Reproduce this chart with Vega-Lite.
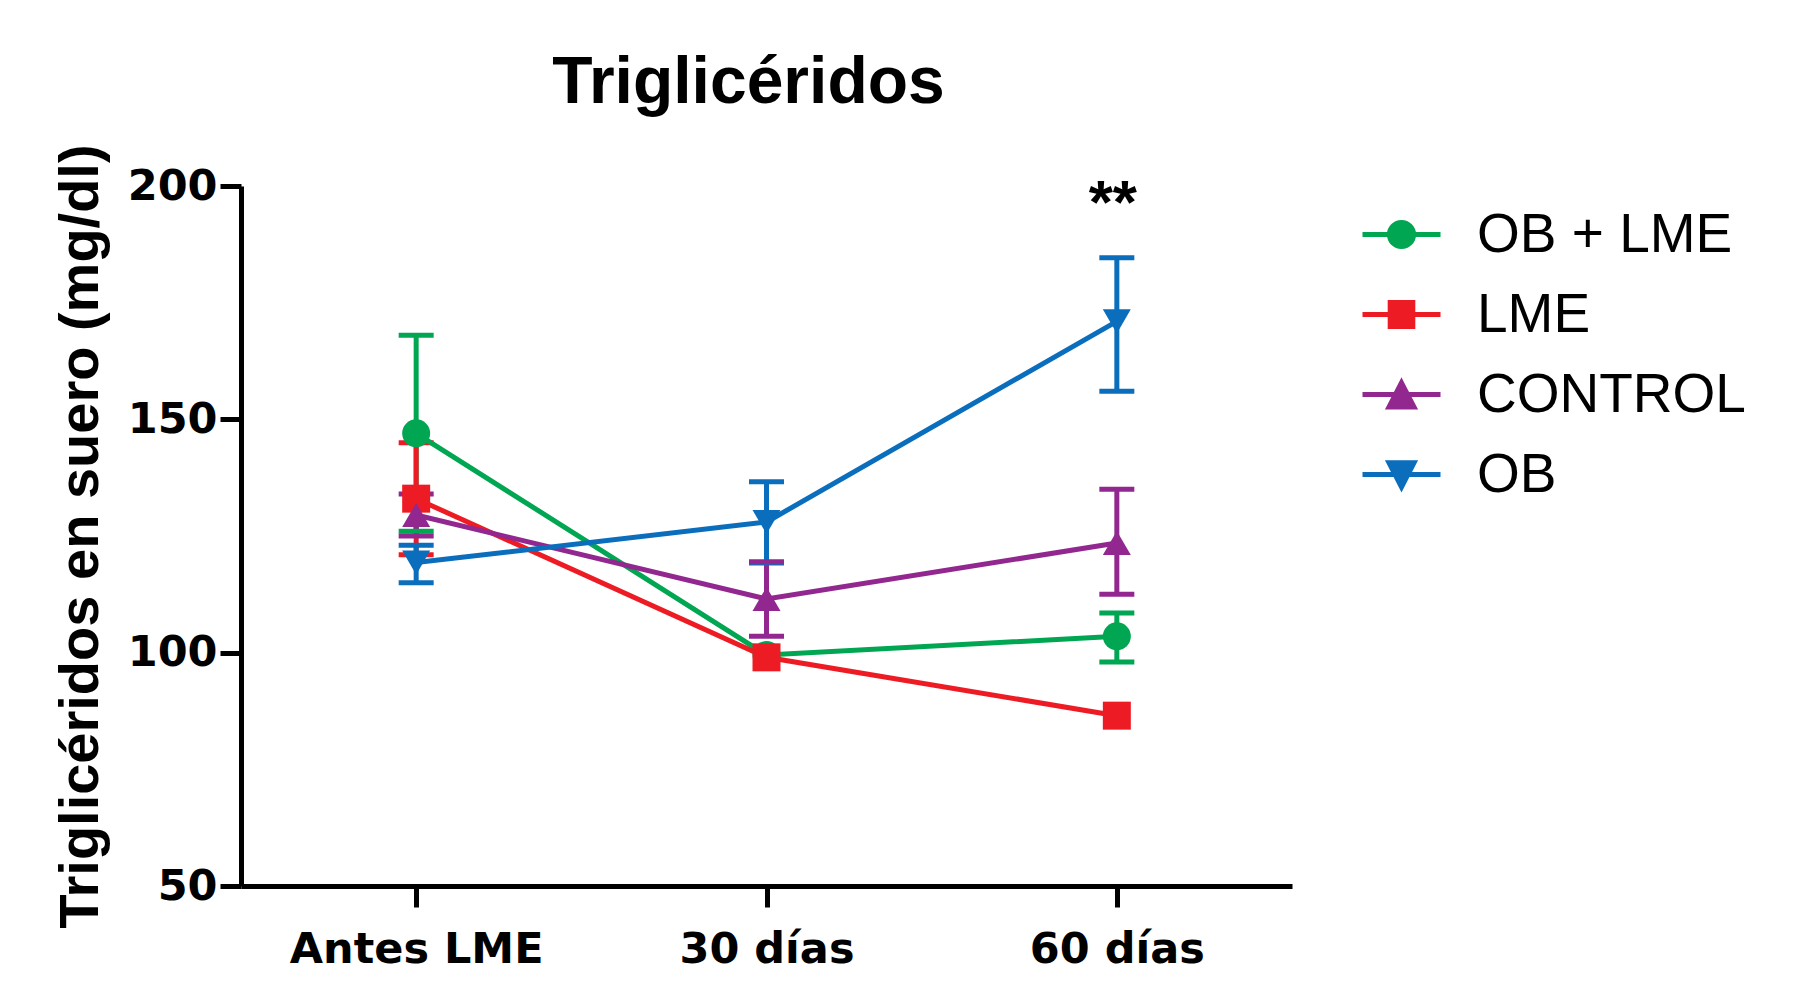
{
  "$schema": "https://vega.github.io/schema/vega-lite/v6.json",
  "width": 1051,
  "height": 700,
  "autosize": {"type": "none"},
  "padding": {"left": 241, "top": 186, "right": 505, "bottom": 96},
  "background": "white",
  "config": {"view": {"stroke": null}},
  "title": {
    "text": "Triglicéridos",
    "font": "Liberation Sans",
    "fontSize": 66,
    "fontWeight": "bold",
    "color": "black",
    "anchor": "middle",
    "frame": "group",
    "dx": -18,
    "baseline": "alphabetic",
    "offset": -25
  },
  "data": {
    "values": [
      {"group": "OB + LME", "time": "Antes LME", "mean": 147, "lo": 126, "hi": 168},
      {"group": "OB + LME", "time": "30 días", "mean": 99.5, "lo": null, "hi": null},
      {"group": "OB + LME", "time": "60 días", "mean": 103.5, "lo": 98, "hi": 108.5},
      {"group": "LME", "time": "Antes LME", "mean": 133, "lo": 121, "hi": 145},
      {"group": "LME", "time": "30 días", "mean": 99, "lo": null, "hi": null},
      {"group": "LME", "time": "60 días", "mean": 86.5, "lo": null, "hi": null},
      {"group": "CONTROL", "time": "Antes LME", "mean": 129.5, "lo": 125, "hi": 134},
      {"group": "CONTROL", "time": "30 días", "mean": 111.5, "lo": 103.5, "hi": 119.5},
      {"group": "CONTROL", "time": "60 días", "mean": 123.5, "lo": 112.5, "hi": 135},
      {"group": "OB", "time": "Antes LME", "mean": 119.3, "lo": 115, "hi": 123},
      {"group": "OB", "time": "30 días", "mean": 128, "lo": 119.2, "hi": 136.6},
      {"group": "OB", "time": "60 días", "mean": 171, "lo": 156, "hi": 184.6}
    ]
  },
  "encoding": {
    "x": {
      "field": "time",
      "type": "nominal",
      "scale": {"type": "point", "domain": ["Antes LME", "30 días", "60 días"], "padding": 0.5},
      "axis": {
        "title": null,
        "labelAngle": 0,
        "labelFont": "DejaVu Sans",
        "labelFontWeight": "bold",
        "labelFontSize": 43,
        "labelColor": "black",
        "labelPadding": 21,
        "labelLimit": 0,
        "domainColor": "black",
        "domainWidth": 5,
        "tickColor": "black",
        "tickWidth": 5,
        "tickSize": 21,
        "grid": false
      }
    },
    "color": {
      "field": "group",
      "type": "nominal",
      "scale": {
        "domain": ["OB + LME", "LME", "CONTROL", "OB"],
        "range": ["#00A651", "#ED1C24", "#92278F", "#0A6EBD"]
      },
      "legend": {
        "title": null,
        "orient": "none",
        "legendX": 1119,
        "legendY": 7,
        "padding": 0,
        "symbolSize": 6084,
        "symbolStrokeWidth": 5,
        "labelFont": "Liberation Sans",
        "labelFontSize": 55,
        "labelColor": "black",
        "labelOffset": 34,
        "labelLimit": 0,
        "rowPadding": 10,
        "encode": {
          "symbols": {
            "update": {
              "shape": {"signal": "datum.value === 'OB + LME' ? 'M-1,0H1M0.31,0A0.31,0.31 0 1,1 -0.31,0A0.31,0.31 0 1,1 0.31,0Z' : datum.value === 'LME' ? 'M-1,0H1M-0.29,-0.31H0.29V0.31H-0.29Z' : datum.value === 'CONTROL' ? 'M-1,0H1M0,-0.3L0.32,0.32H-0.32Z' : 'M-1,0H1M-0.32,-0.3H0.32L0,0.32Z'"},
              "fill": {"scale": "color", "field": "value"},
              "stroke": {"scale": "color", "field": "value"},
              "strokeWidth": {"value": 5},
              "opacity": {"value": 1},
              "fillOpacity": {"value": 1},
              "strokeOpacity": {"value": 1}
            }
          }
        }
      }
    }
  },
  "layer": [
    {
      "mark": {"type": "rule", "strokeWidth": 5},
      "encoding": {
        "y": {
          "field": "lo",
          "type": "quantitative",
          "scale": {"domain": [50, 200], "nice": false, "zero": false},
          "axis": {
            "values": [50, 100, 150, 200],
            "title": "Triglicéridos en suero (mg/dl)",
            "titleFont": "Liberation Sans",
            "titleFontSize": 56,
            "titleFontWeight": "bold",
            "titleColor": "black",
            "titlePadding": 18,
            "labelFont": "DejaVu Sans",
            "labelFontWeight": "bold",
            "labelFontSize": 43,
            "labelColor": "black",
            "labelPadding": 3,
            "domainColor": "black",
            "domainWidth": 5,
            "tickColor": "black",
            "tickWidth": 5,
            "tickSize": 21,
            "grid": false
          }
        },
        "y2": {"field": "hi"}
      }
    },
    {
      "mark": {"type": "tick", "orient": "horizontal", "size": 35, "thickness": 5, "opacity": 1},
      "encoding": {"y": {"field": "lo", "type": "quantitative"}}
    },
    {
      "mark": {"type": "tick", "orient": "horizontal", "size": 35, "thickness": 5, "opacity": 1},
      "encoding": {"y": {"field": "hi", "type": "quantitative"}}
    },
    {
      "mark": {"type": "line", "strokeWidth": 5},
      "encoding": {"y": {"field": "mean", "type": "quantitative"}}
    },
    {
      "mark": {"type": "point", "filled": true, "size": 784, "opacity": 1},
      "encoding": {
        "y": {"field": "mean", "type": "quantitative"},
        "shape": {
          "field": "group",
          "type": "nominal",
          "scale": {
            "domain": ["OB", "CONTROL", "LME", "OB + LME"],
            "range": ["triangle-down", "triangle-up", "square", "circle"]
          },
          "legend": null
        }
      }
    },
    {
      "data": {"values": [{"time": "60 días", "y": 192, "label": "**"}]},
      "mark": {"type": "text", "font": "Liberation Sans", "fontWeight": "bold", "fontSize": 62, "color": "black", "baseline": "alphabetic", "align": "center", "dx": -4},
      "encoding": {
        "x": {"field": "time", "type": "nominal"},
        "y": {"field": "y", "type": "quantitative"},
        "text": {"field": "label"},
        "color": {"value": "black"}
      }
    }
  ]
}
